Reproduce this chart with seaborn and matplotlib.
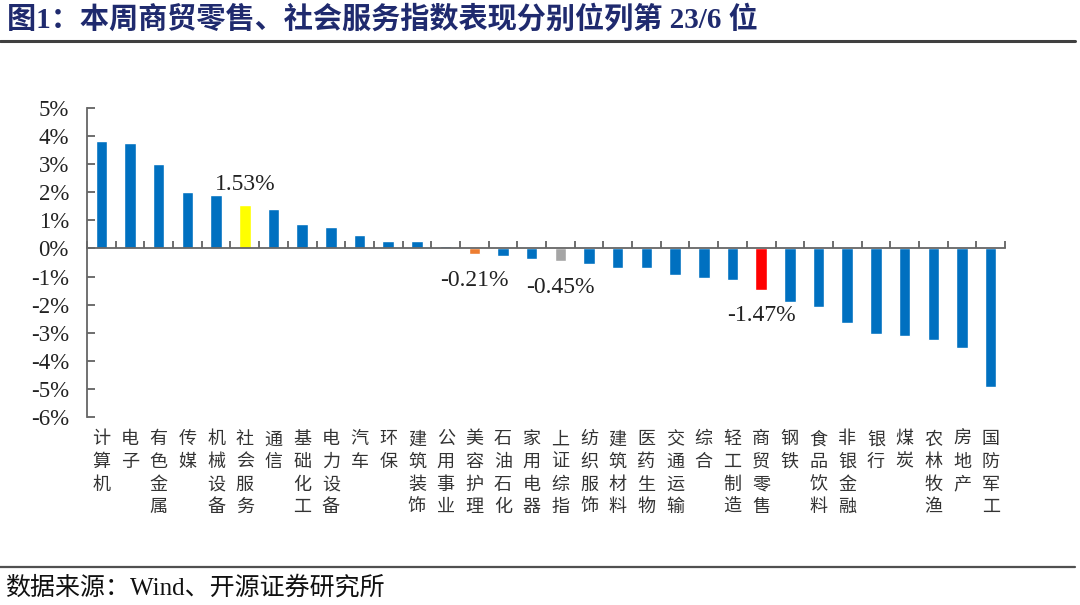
import matplotlib
matplotlib.use("Agg")
import matplotlib.pyplot as plt
import matplotlib.transforms as mtransforms
import seaborn as sns
import numpy as np

categories = ["计算机", "电子", "有色金属", "传媒", "机械设备", "社会服务", "通信", "基础化工",
              "电力设备", "汽车", "环保", "建筑装饰", "公用事业", "美容护理", "石油石化", "家用电器",
              "上证综指", "纺织服饰", "建筑材料", "医药生物", "交通运输", "综合", "轻工制造", "商贸零售",
              "钢铁", "食品饮料", "非银金融", "银行", "煤炭", "农林牧渔", "房地产", "国防军工"]
values = [3.83, 3.76, 3.01, 2.02, 1.90, 1.53, 1.40, 0.88,
          0.77, 0.49, 0.26, 0.26, 0.07, -0.21, -0.27, -0.37,
          -0.45, -0.56, -0.68, -0.68, -0.95, -1.04, -1.11, -1.47,
          -1.89, -2.08, -2.64, -3.05, -3.12, -3.26, -3.55, -4.92]
highlight_colors = {"社会服务": "#FFFF00", "美容护理": "#ED7D31", "上证综指": "#A5A5A5", "商贸零售": "#FF0000"}
labeled = ["社会服务", "美容护理", "上证综指", "商贸零售"]
yticks = [5, 4, 3, 2, 1, 0, -1, -2, -3, -4, -5, -6]

sns.set_theme(style="white")
plt.rcParams['font.family'] = ['Liberation Serif', 'Noto Sans CJK SC', 'DejaVu Sans']

palette = [highlight_colors.get(c, "#0070C0") for c in categories]

fig = plt.figure(figsize=(10.8, 6.05), dpi=100)
ax = fig.add_axes([87/1080, 1-417/605, (1005-87)/1080, (417-108)/605])

sns.barplot(x=categories, y=values, hue=categories, palette=palette, legend=False,
            width=0.4, ax=ax, saturation=1)

ax.set_xlim(-0.5, len(categories) - 0.5)
ax.set_ylim(-6, 5)
ax.set_yticks(yticks)
ax.set_yticklabels([f"{t}%" for t in yticks], fontsize=16.5, color="#222222")
ax.tick_params(axis='y', direction='in', length=6, width=1.2, color="#555555", pad=13, left=True)

ax.spines['bottom'].set_position(('data', 0))
for s in ['top', 'right']:
    ax.spines[s].set_visible(False)
for s in ['left', 'bottom']:
    ax.spines[s].set_color("#666666")
    ax.spines[s].set_linewidth(1.3)
ax.set_xticks(np.arange(-0.5, len(categories), 1.0))
ax.set_xticklabels([])
ax.tick_params(axis='x', direction='in', length=5, width=1.2, color="#555555", bottom=True)
ax.set_xlabel("")
ax.set_ylabel("")
ax.grid(False)

# vertical category labels below the plot
trans = mtransforms.blended_transform_factory(ax.transData, ax.transAxes)
for i, c in enumerate(categories):
    ax.text(i, -0.043, "\n".join(c), transform=trans, ha='center', va='top',
            fontsize=13, color="#333333", family=['Noto Sans CJK SC'], linespacing=1.33)

# value labels
for c in labeled:
    i = categories.index(c)
    v = values[i]
    off = 21 if v > 0 else -26
    ax.annotate(f"{v:.2f}%", xy=(i, v), xytext=(0, off), textcoords='offset pixels',
                ha='center', va='center', fontsize=17, color="#222222")

# title and decorations
fig.text(7/1080, 1-19/605, "图1：本周商贸零售、社会服务指数表现分别位列第 23/6 位",
         fontsize=21, fontweight='bold', color="#1F2A6E", ha='left', va='center')
fig.add_artist(plt.Line2D([0, 1075/1080], [1-41/605, 1-41/605], color="#404040", lw=2.2))
fig.add_artist(plt.Line2D([0, 1075/1080], [1-567/605, 1-567/605], color="#505050", lw=1.6))
fig.text(5/1080, 1-588/605, "数据来源：Wind、开源证券研究所", fontsize=18, color="#111111",
         ha='left', va='center')

fig.savefig("out.png", dpi=100)
